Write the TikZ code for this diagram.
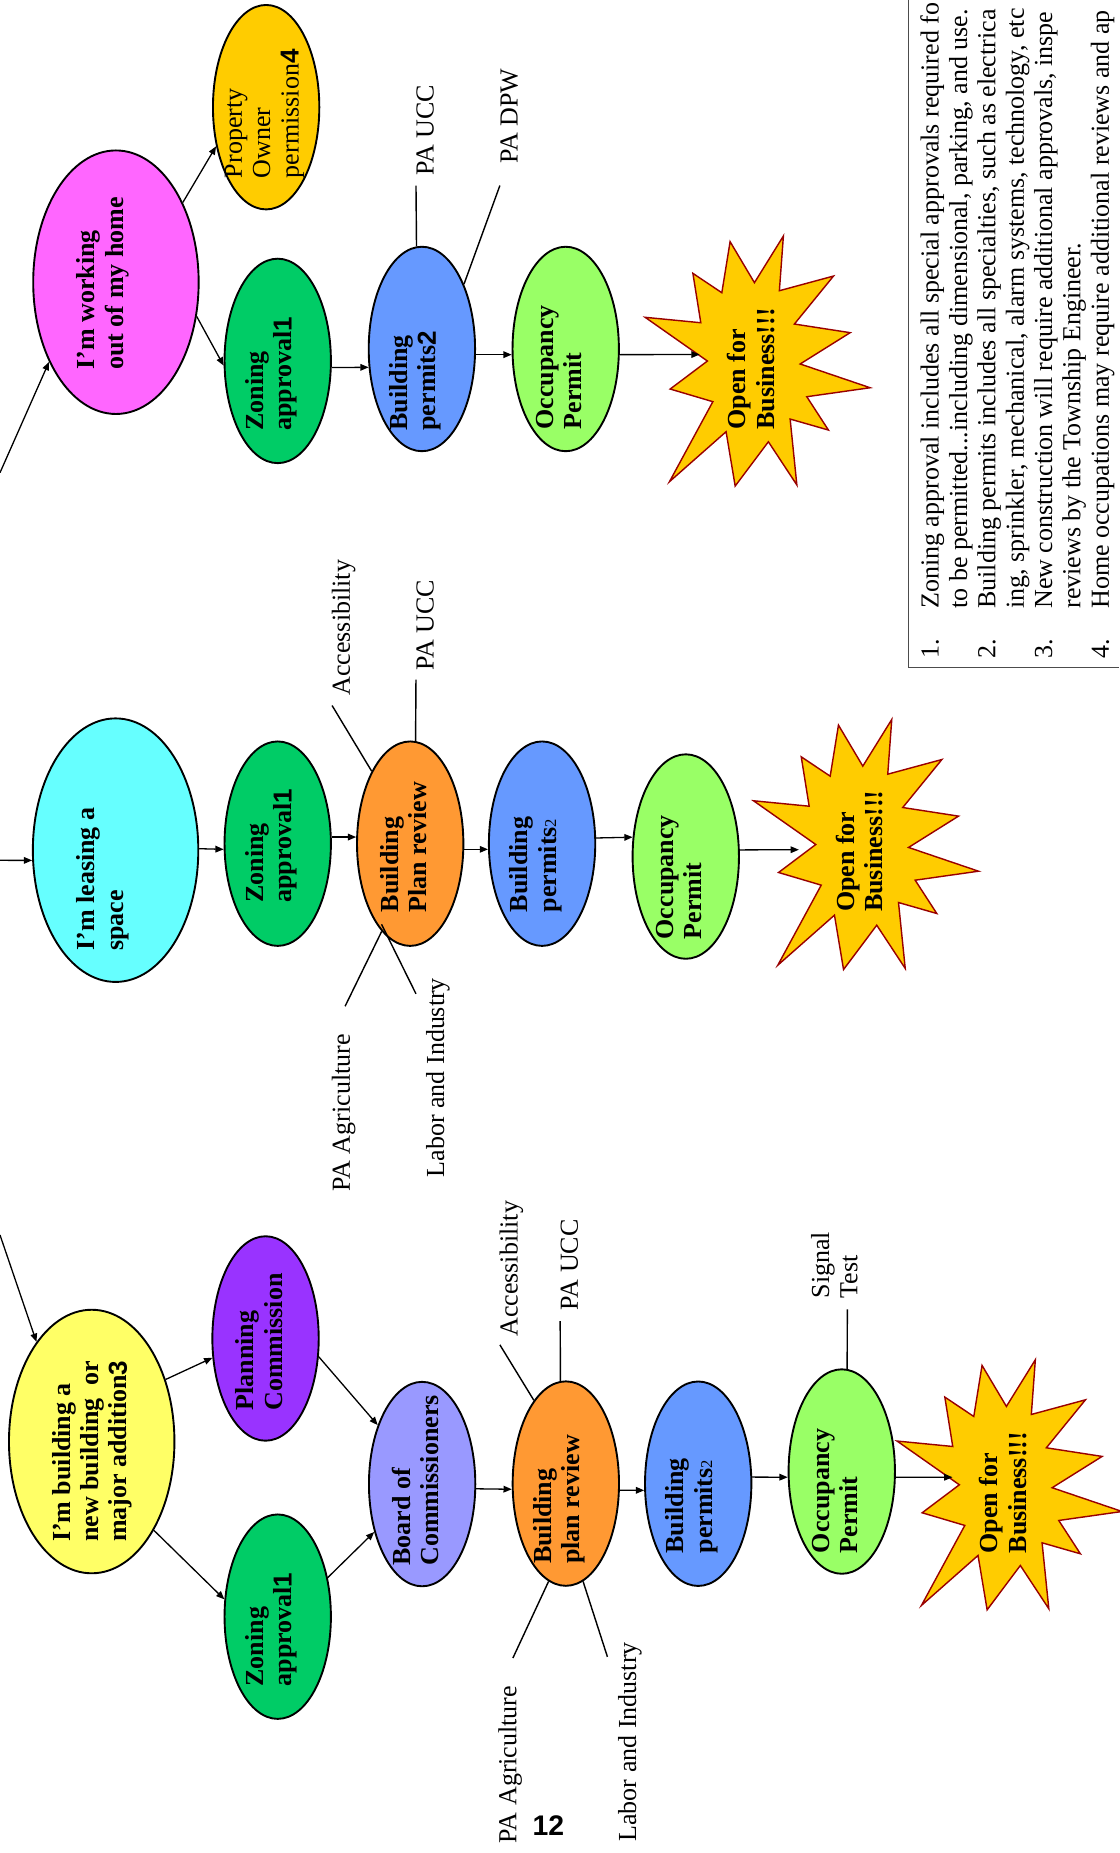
\documentclass[tikz,border=0pt]{standalone}
\usepackage{fontspec}
\setmainfont{Liberation Serif}
\newfontfamily\digit{Liberation Sans}
\usepackage{graphicx}
\usetikzlibrary{shapes}
\usetikzlibrary{arrows.meta}
\definecolor{homecol}{HTML}{FF66FF}
\definecolor{leasecol}{HTML}{66FFFF}
\definecolor{buildcol}{HTML}{FFFF66}
\definecolor{owncol}{HTML}{FFCC00}
\definecolor{zoncol}{HTML}{00CC66}
\definecolor{permcol}{HTML}{6699FF}
\definecolor{occcol}{HTML}{99FF66}
\definecolor{revcol}{HTML}{FF9933}
\definecolor{plancol}{HTML}{9933FF}
\definecolor{boardcol}{HTML}{9999FF}
\definecolor{burstgold}{HTML}{FFCC00}
\definecolor{burstred}{HTML}{990000}
\newcommand{\uptext}[3][0pt]{\rotatebox{90}{\makebox[0pt]{\raisebox{#1}[0pt][0pt]{\parbox{#2}{\raggedright\hyphenpenalty=10000 #3}}}}}
\newcommand{\refn}[1]{{\digit\bfseries #1}}
\newcommand{\subn}[1]{{\mdseries\fontsize{7}{8}\selectfont #1}}
\tikzset{
    oval/.style = {ellipse, draw=black, line width=0.8pt, inner sep=0pt, minimum width=45pt, minimum height=86.5pt, font=\fontsize{11}{12}\selectfont\bfseries},
    bigoval/.style = {oval, minimum width=70pt, minimum height=111.5pt},
    burstlbl/.style = {inner sep=0pt, font=\fontsize{11}{12}\selectfont\bfseries},
    arr/.style = {-{Triangle[length=3.5pt,width=2.8pt]}, line width=0.55pt},
    tick/.style = {line width=0.6pt},
    note/.style = {rotate=90, anchor=base west, inner sep=0pt, font=\fontsize{11}{12}\selectfont},
    frame/.style = {draw=black!70, line width=0.5pt},
    burst/.pic = {
        \draw[draw=burstred, fill=burstgold, line width=0.6pt]
            (-95.2,-37) -- (-48.1,-32.4) -- (-54.8,-74.2) -- (-30.3,-57.8) -- (-23.3,-101) -- (-2.7,-66.3)
            -- (21.8,-105.8) -- (18.4,-59.5) -- (64.2,-71.9) -- (31.1,-31.3) -- (78.3,-24) -- (36,2.5)
            -- (95.2,22.6) -- (41.6,30.2) -- (59.9,58.4) -- (27.5,49.1) -- (33.2,104.9) -- (9.1,68.3)
            -- (-19,105.8) -- (-26.7,59.8) -- (-74.6,102.1) -- (-37.9,34.4) -- (-74,23.7) -- (-42.5,0) -- cycle;
    }
}

\begin{document}
\begin{tikzpicture}[x=0.5pt, y=-0.5pt]
\useasboundingbox (0,0) rectangle (947,1568);
%
% working out of my home
\node[bigoval, fill=homecol] at (98.1,238.8) (home) {\uptext[2.75pt]{74pt}{I’m working\\out of my home}};
\node[oval, fill=owncol, font=\fontsize{11}{12}\selectfont] at (225.2,90.7) (own) {\uptext[-2pt]{60pt}{Property\\Owner\\permission\refn{4}}};
\node[oval, fill=zoncol] at (235,305.4) (zon3) {\uptext{59pt}{Zoning\\approval\refn{1}}};
\node[oval, fill=permcol] at (357,295.3) (bp3) {\uptext{69pt}{Building\\permits\refn{2}}};
\node[oval, fill=occcol] at (478.7,295.3) (occ3) {\uptext{68pt}{Occupancy\\Permit}};
\pic at (641.1,305.5) {burst};
\node[burstlbl] at (641.1,305.5) (star3) {\uptext{58pt}{Open for\\Business!!!}};
%
% leasing a space
\node[bigoval, fill=leasecol] at (97.8,719.4) (lease) {\uptext[2.75pt]{85pt}{I’m leasing a\\space}};
\node[oval, fill=zoncol] at (235,713.9) (zon2) {\uptext{50pt}{Zoning\\approval\refn{1}}};
\node[oval, fill=revcol] at (347.1,713.9) (rev2) {\uptext{58pt}{Building\\Plan review}};
\node[oval, fill=permcol] at (458.7,713.9) (bp2) {\uptext{58pt}{Building\\permits\subn{2}}};
\node[oval, fill=occcol] at (580.3,724.8) (occ2) {\uptext{70pt}{Occupancy\\Permit}};
\pic at (732.8,714.6) {burst};
\node[burstlbl] at (732.8,714.6) (star2) {\uptext{57pt}{Open for\\Business!!!}};
%
% new building or major addition
\node[bigoval, fill=buildcol] at (77.6,1219.8) (build) {\uptext[-3pt]{85pt}{I’m building a\\new building\ \ or\\major addition\refn{3}}};
\node[oval, fill=plancol] at (224.7,1132.6) (plan) {\uptext{61pt}{Planning\\Commission}};
\node[oval, fill=zoncol] at (235,1368) (zon1) {\uptext{59pt}{Zoning\\approval\refn{1}}};
\node[oval, fill=boardcol] at (357.2,1255.8) (board) {\uptext{69pt}{Board of\\Commissioners}};
\node[oval, fill=revcol] at (478.8,1255.4) (rev1) {\uptext{68pt}{Building\\plan review}};
\node[oval, fill=permcol] at (590.8,1255.5) (bp1) {\uptext{59pt}{Building\\permits\subn{2}}};
\node[oval, fill=occcol] at (712.3,1245.2) (occ1) {\uptext{69pt}{Occupancy\\Permit}};
\pic at (854.3,1256.4) {burst};
\node[burstlbl] at (854.3,1256.4) (star1) {\uptext{58pt}{Open for\\Business!!!}};
%
% reviewing agencies
\node[note] at (367,149) (ucc3) {PA UCC};
\node[note] at (438,139) (dpw3) {PA DPW};
\node[note] at (296,589) (acc2) {Accessibility};
\node[note] at (367,568) (ucc2) {PA UCC};
\node[note] at (296,1008.6) (agr2) {PA Agriculture};
\node[note] at (375.8,996.6) (lab2) {Labor and Industry};
\node[note] at (438,1131.5) (acc1) {Accessibility};
\node[note] at (489,1109) (ucc1) {PA UCC};
\node[note] at (437,1560) (agr1) {PA Agriculture};
\node[note] at (538.3,1558.6) (lab1) {Labor and Industry};
\node[note, anchor=west, align=left] at (706,1099) (sig1) {Signal\\Test};
%
\coordinate (in3) at (0,400);
\coordinate (in2) at (0,728);
\coordinate (in1) at (0,1045);
\coordinate (s3in) at (592,300);
\coordinate (s2in) at (676,719);
\coordinate (s1in) at (806,1250);
\coordinate (ucc3a) at (352,157);
\coordinate (dpw3a) at (423,157);
\coordinate (acc2a) at (281,597);
\coordinate (ucc2a) at (352,575);
\coordinate (agr2a) at (292,851.5);
\coordinate (lab2a) at (352,841);
\coordinate (acc1a) at (423,1138);
\coordinate (ucc1a) at (474,1118);
\coordinate (agr1a) at (434,1403);
\coordinate (lab1a) at (514,1402);
\coordinate (sig1a) at (717,1108);
%
\draw[arr] (in3) -- (home.230);
\draw[arr] (home.50) -- (own.218);
\draw[arr] (home.337) -- (zon3.185);
\draw[arr] (zon3.353) -- (bp3.199);
\draw[arr] (bp3.354) -- (occ3.186);
\draw[arr] (occ3.354) -- (s3in);
\draw[tick] (bp3.93) -- (ucc3a);
\draw[tick] (bp3.57) -- (dpw3a);
%
\draw[arr] (in2) -- (lease.187);
\draw[arr] (lease.1) -- (zon2.186);
\draw[arr] (zon2.7) -- (rev2.173);
\draw[arr] (rev2.354) -- (bp2.186);
\draw[arr] (bp2.6) -- (occ2.160);
\draw[arr] (occ2.7) -- (s2in);
\draw[tick] (rev2.118) -- (acc2a);
\draw[tick] (rev2.87) -- (ucc2a);
\draw[tick] (rev2.252) -- (agr2a);
\draw[tick, shorten <=-6.5pt] (rev2.257) -- (lab2a);
%
\draw[arr] (in1) -- (build.119);
\draw[arr] (build.40) -- (plan.200);
\draw[arr] (build.305) -- (zon1.162);
\draw[arr] (plan.341) -- (board.127);
\draw[arr] (zon1.38) -- (board.225);
\draw[arr] (board.355) -- (rev1.186);
\draw[arr] (rev1.353) -- (bp1.187);
\draw[arr] (bp1.7) -- (occ1.186);
\draw[arr] (occ1.354) -- (s1in);
\draw[tick] (rev1.111) -- (acc1a);
\draw[tick] (rev1.93) -- (ucc1a);
\draw[tick] (rev1.260) -- (agr1a);
\draw[tick] (rev1.280) -- (lab1a);
\draw[tick] (occ1.87) -- (sig1a);
%
% footnotes
\draw[frame] (769,0) -- (769,564.8) -- (947,564.8);
\node[note] at (794.3,558) (notes) {%
  \begin{tabular}[t]{@{}p{21.3pt}@{}l@{}}
  1. & Zoning approval includes all special approvals required fo\\
     & to be permitted...including dimensional, parking, and use.\\
  2. & Building permits includes all specialties, such as electrica\\
     & ing, sprinkler, mechanical, alarm systems, technology, etc\\
  3. & New construction will require additional approvals, inspe\\
     & reviews by the Township Engineer.\\
  4. & Home occupations may require additional reviews and ap
  \end{tabular}};
\node[font=\fontsize{12}{12}\digit\bfseries] at (464,1544.5) (page) {12};
\end{tikzpicture}
\end{document}
